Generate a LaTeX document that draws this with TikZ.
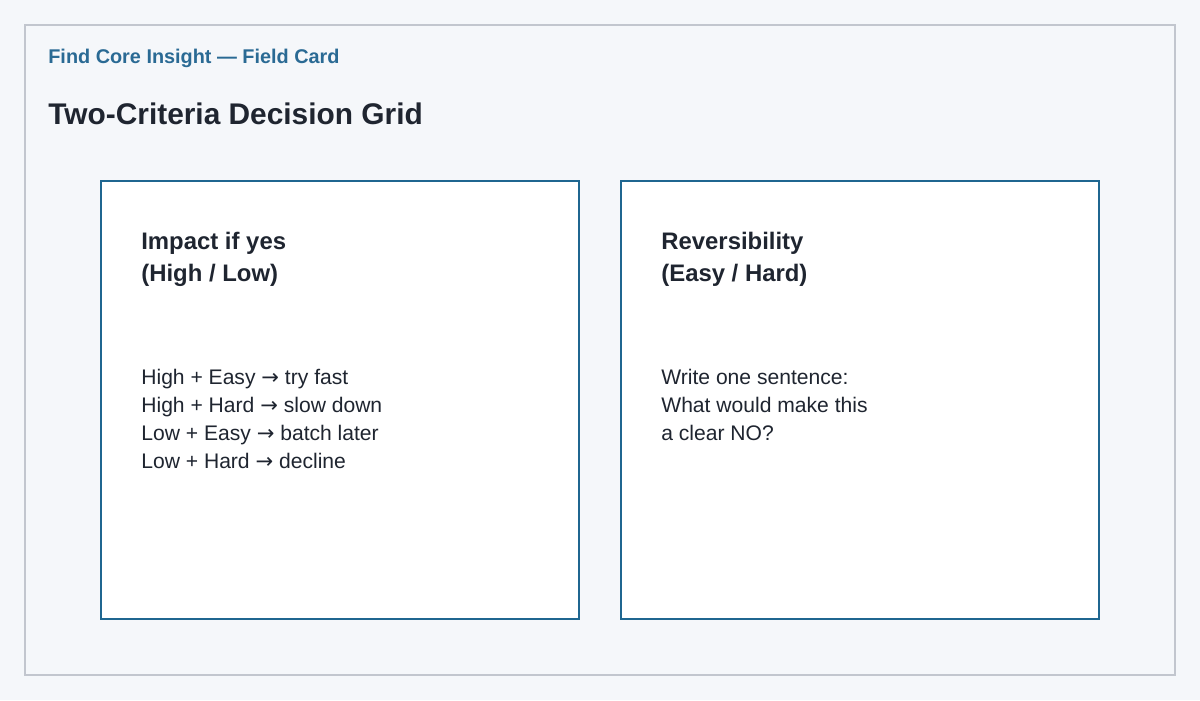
\documentclass[tikz,border=0pt]{standalone}
\usepackage{fontspec}
\setmainfont{Liberation Sans}
\newfontfamily\arrowfont{DejaVu Sans}
\newcommand{\arr}{{\arrowfont\char"2192}}
\usetikzlibrary{positioning}
\definecolor{pagebg}{HTML}{F5F7FA}
\definecolor{framegray}{HTML}{C2C6CE}
\definecolor{cardblue}{HTML}{1F6690}
\definecolor{kickerblue}{HTML}{2A6A94}
\definecolor{inkdark}{HTML}{1F2530}
\tikzset{
  % text placed by its (last) baseline
  txt/.style={anchor=base west, inner sep=0pt, text=inkdark},
  % card heading
  head/.style={txt, font=\bfseries\fontsize{13.6}{18.1}\selectfont, align=left},
  % card body
  body/.style={txt, font=\fontsize{12}{15.9}\selectfont, align=left},
  % card box
  card/.style={draw=cardblue, line width=1.4pt, fill=white},
}
\begin{document}
\begin{tikzpicture}[x=0.02cm, y=-0.02cm]
  \useasboundingbox (0,0) rectangle (1200,700);
  \fill[pagebg] (0,0) rectangle (1200,700);
  \draw[framegray, line width=0.8pt] (25,25) rectangle (1175,675);

  \node[txt, text=kickerblue, font=\bfseries\fontsize{11.3}{14}\selectfont] (kicker) at (48,63) {Find Core Insight — Field Card};
  \node[txt, font=\bfseries\fontsize{17}{20}\selectfont] (title) at (48,124) {Two-Criteria Decision Grid};

  \draw[card] (101,181) rectangle (579,619);
  \draw[card] (621,181) rectangle (1099,619);

  \node[head] (impact) at (141,281) {Impact if yes\\(High / Low)};
  \node[head] (revers) at (661,281) {Reversibility\\(Easy / Hard)};

  \node[body] (rules) at (141,468) {High + Easy \arr{} try fast\\High + Hard \arr{} slow down\\Low + Easy \arr{} batch later\\Low + Hard \arr{} decline};
  \node[body] (prompt) at (661,440) {Write one sentence:\\What would make this\\a clear NO?};
\end{tikzpicture}
\end{document}
